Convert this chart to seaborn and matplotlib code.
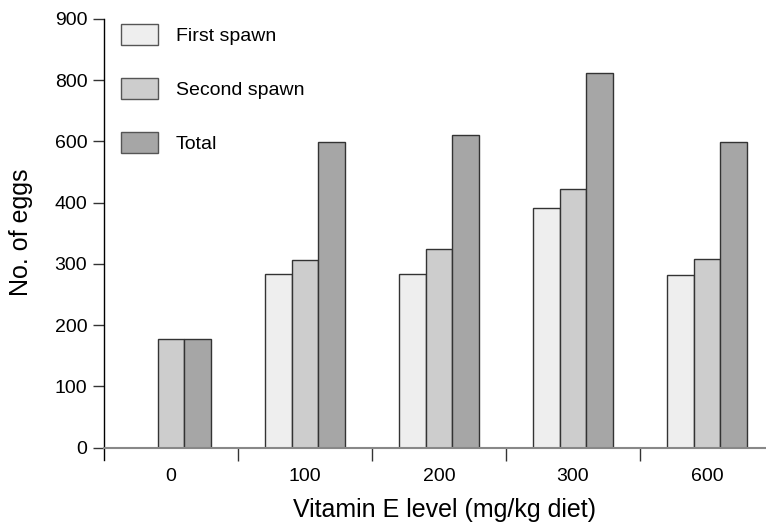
import numpy as np
import pandas as pd
import matplotlib
matplotlib.use("Agg")
import matplotlib.pyplot as plt
import seaborn as sns

levels = ["0", "100", "200", "300", "600"]
first_spawn = [np.nan, 284, 284, 391, 282]
second_spawn = [178, 306, 325, 443, 308]
total = [178, 597, 621, 811, 598]
series_names = ["First spawn", "Second spawn", "Total"]
colors = ["#eeeeee", "#cdcdcd", "#a6a6a6"]
y_ticks = [0, 100, 200, 300, 400, 600, 800, 900]

rows = []
for name, vals in zip(series_names, [first_spawn, second_spawn, total]):
    for lv, v in zip(levels, vals):
        rows.append({"level": lv, "series": name, "eggs": v})
df = pd.DataFrame(rows)

sns.set_style("white")
plt.rcParams["font.family"] = ["Liberation Sans", "DejaVu Sans"]
plt.rcParams["text.color"] = "black"
plt.rcParams["axes.labelcolor"] = "black"
plt.rcParams["xtick.color"] = "black"
plt.rcParams["ytick.color"] = "black"

# piecewise axis: tick values evenly spaced on the page
_vals = np.array(y_ticks, dtype=float)
_pos = np.arange(len(y_ticks), dtype=float)


def fwd(v):
    v = np.asarray(v, dtype=float)
    return np.where(v < 0, v / 100.0, np.interp(v, _vals, _pos))


def inv(p):
    p = np.asarray(p, dtype=float)
    return np.where(p < 0, p * 100.0, np.interp(p, _pos, _vals))


fig = plt.figure(figsize=(7.66, 5.25), dpi=100)
ax = fig.add_axes([104 / 766, 1 - 447.5 / 525, 1 - 104 / 766, (447.5 - 19) / 525])

sns.barplot(data=df.dropna(), x="level", y="eggs", hue="series",
            order=levels, hue_order=series_names, palette=colors,
            width=0.6, gap=0, edgecolor="#333333", linewidth=1.0,
            saturation=1, ax=ax, legend=True)

ax.set_yscale("function", functions=(fwd, inv))
ax.set_xlim(-0.5, 4.44)
ax.set_ylim(0, 900)
ax.set_yticks(y_ticks)
ax.set_yticklabels([str(t) for t in y_ticks], fontsize=14, color="black")
ax.yaxis.set_minor_locator(matplotlib.ticker.NullLocator())
ax.tick_params(axis="y", which="major", direction="out", length=8, width=1, color="#333333", pad=4, left=True)

ax.set_xticks(range(len(levels)))
ax.set_xticklabels(levels, fontsize=14, color="black")
ax.tick_params(axis="x", which="major", length=0, pad=15)
ax.set_xticks([0.5, 1.5, 2.5, 3.5], minor=True)
ax.tick_params(axis="x", which="minor", direction="out", length=9.5, width=1, color="#333333", bottom=True)

for s in ["top", "right"]:
    ax.spines[s].set_visible(False)
ax.spines["left"].set_color("black")
ax.spines["left"].set_linewidth(1.0)
ax.spines["left"].set_bounds(-20.5, 900)
ax.spines["bottom"].set_color("#888888")
ax.spines["bottom"].set_linewidth(1.5)

ax.set_xlabel("Vitamin E level (mg/kg diet)", fontsize=18, color="black")
ax.xaxis.set_label_coords(0.514, -0.118)
ax.set_ylabel("No. of eggs", fontsize=18, color="black")
ax.yaxis.set_label_coords(-0.107, 0.502)

handles, labels = ax.get_legend_handles_labels()
leg = ax.legend(handles, labels, loc="upper left", bbox_to_anchor=(121 / 766, 1 - 24 / 525),
                bbox_transform=fig.transFigure, frameon=False, fontsize=14,
                handlelength=1.9, handleheight=1.3, labelspacing=1.68,
                handletextpad=0.93, borderpad=0, borderaxespad=0)
for h in leg.legend_handles:
    h.set_edgecolor("#555555")
for t in leg.get_texts():
    t.set_color("black")

fig.savefig("out.png", dpi=100)
